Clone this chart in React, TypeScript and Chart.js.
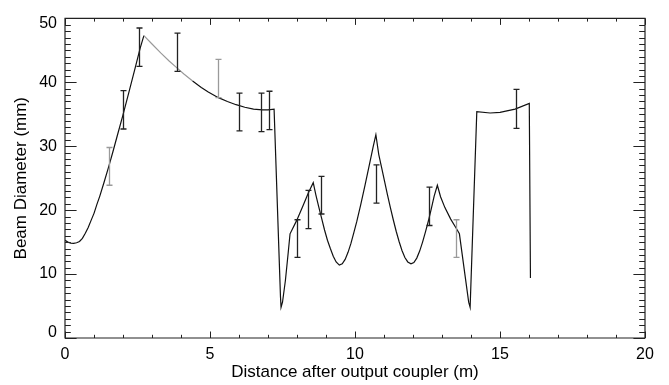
import { useEffect, useRef } from "react";
import { Chart, registerables } from "chart.js";

Chart.register(...registerables);

// ---- Data ----
const curveX = [
  0, 0.1, 0.2, 0.3, 0.4, 0.5, 0.6, 0.7, 0.8, 0.9, 1.0, 1.1, 1.2, 1.35, 1.5, 1.65, 1.8, 2.0, 2.2, 2.4,
  2.59, 2.72, 3.0, 3.3, 3.6, 3.85, 4.1, 4.4, 4.7, 4.94, 5.29, 5.6, 5.9, 6.2, 6.5, 6.8, 7.0, 7.21, 7.4,
  7.43, 7.45, 7.5, 7.6, 7.7, 7.76, 7.99, 8.2, 8.39, 8.56, 8.65, 8.75, 8.85, 8.95, 9.05, 9.15, 9.25, 9.35,
  9.46, 9.56, 9.66, 9.76, 9.86, 9.96, 10.06, 10.2, 10.35, 10.5, 10.62, 10.72, 10.82, 10.92, 11.02, 11.12,
  11.22, 11.32, 11.42, 11.52, 11.62, 11.72, 11.82, 11.93, 12.03, 12.13, 12.23, 12.33, 12.43, 12.53,
  12.63, 12.73, 12.84, 12.95, 13.1, 13.3, 13.5, 13.6, 13.8, 13.92, 13.97, 14.2, 14.66, 15.0, 15.52,
  16.01, 16.05,
];
const curveY = [
  15.3, 15.0, 14.85, 14.8, 14.9, 15.1, 15.6, 16.4, 17.3, 18.4, 19.5, 20.9, 22.2, 24.4, 26.7, 29.1, 31.6,
  34.9, 38.4, 41.9, 45.3, 47.3, 46.0, 44.6, 43.3, 42.3, 41.3, 40.2, 39.2, 38.5, 37.6, 37.0, 36.5, 36.1,
  35.8, 35.7, 35.7, 35.8, 10.5, 6.5, 4.8, 5.6, 9.0, 13.5, 16.3, 18.4, 20.6, 22.7, 24.3, 22.4, 20.5, 18.7,
  16.9, 15.3, 14.0, 12.8, 11.9, 11.4, 11.6, 12.3, 13.4, 14.8, 16.5, 18.2, 20.9, 24.0, 27.2, 29.8, 31.8,
  28.7, 26.6, 24.5, 22.4, 20.4, 18.5, 16.7, 15.1, 13.7, 12.6, 11.9, 11.6, 11.8, 12.5, 13.6, 15.0, 16.6,
  18.3, 20.2, 22.2, 23.9, 22.1, 20.4, 18.6, 17.1, 16.3, 9.6, 5.6, 4.8, 35.4, 35.2, 35.3, 35.8, 36.7, 9.4,
];

const errX = [1.5, 2.0, 2.56, 3.85, 5.29, 6.01, 6.75, 7.03, 7.99, 8.39, 8.82, 10.71, 12.56, 13.47, 15.54];
const errLow = [23.9, 32.7, 42.5, 41.7, 37.6, 32.4, 32.3, 32.6, 12.6, 17.1, 19.4, 21.1, 17.6, 12.6, 32.8];
const errHigh = [29.8, 38.7, 48.5, 47.7, 43.6, 38.3, 38.3, 38.6, 18.5, 23.1, 25.3, 27.1, 23.6, 18.5, 38.9];

const xTickValues = [0, 5, 10, 15, 20];
const yTickValues = [0, 10, 20, 30, 40, 50];

const xTitle = "Distance after output coupler (m)";
const yTitle = "Beam Diameter (mm)";

// ---- Styling ----
const FONT = "'Liberation Sans', Arial, Helvetica, sans-serif";
const INK = "#111";
const FAINT = "#9a9a9a";
const FAINT_BARS = new Set([0, 4, 13]);
const FAINT_LINE_FROM = 2.72;
const FAINT_LINE_TO = 4.4;

const errorBars = {
  id: "errorBars",
  afterDatasetsDraw(chart: any) {
    const { ctx, scales } = chart;
    const xs = scales.x;
    const ys = scales.y;
    ctx.save();
    ctx.lineWidth = 1.3;
    for (let i = 0; i < errX.length; i++) {
      const px = Math.round(xs.getPixelForValue(errX[i])) + 0.5;
      const pl = ys.getPixelForValue(errLow[i]);
      const ph = ys.getPixelForValue(errHigh[i]);
      ctx.strokeStyle = FAINT_BARS.has(i) ? FAINT : "#222";
      ctx.beginPath();
      ctx.moveTo(px, pl);
      ctx.lineTo(px, ph);
      ctx.moveTo(px - 3, pl);
      ctx.lineTo(px + 3, pl);
      ctx.moveTo(px - 3, ph);
      ctx.lineTo(px + 3, ph);
      ctx.stroke();
    }
    ctx.restore();
  },
};

const frame = {
  id: "frame",
  afterDatasetsDraw(chart: any) {
    const { ctx, chartArea, scales } = chart;
    const { left, right, top, bottom } = chartArea;
    const xs = scales.x;
    const ys = scales.y;
    ctx.save();
    ctx.strokeStyle = "#222";
    ctx.lineWidth = 1.2;
    ctx.beginPath();
    ctx.rect(left, top, right - left, bottom - top);
    ctx.stroke();
    ctx.lineWidth = 1;
    ctx.beginPath();
    for (let v = 0; v <= 20; v += 1) {
      const px = Math.round(xs.getPixelForValue(v)) + 0.5;
      const len = v % 5 === 0 ? 6.5 : 3.2;
      ctx.moveTo(px, bottom);
      ctx.lineTo(px, bottom - len);
      ctx.moveTo(px, top);
      ctx.lineTo(px, top + len);
    }
    for (let v = 0; v <= 50; v += 1) {
      const py = Math.round(ys.getPixelForValue(v)) + 0.5;
      const len = v % 10 === 0 ? 11.6 : 5.8;
      ctx.moveTo(left, py);
      ctx.lineTo(left + len, py);
      ctx.moveTo(right, py);
      ctx.lineTo(right - len, py);
    }
    ctx.stroke();
    ctx.restore();
  },
};

export default function App() {
  const ref = useRef<HTMLCanvasElement | null>(null);

  useEffect(() => {
    if (!ref.current) return;
    const points = curveX.map((x, i) => ({ x, y: curveY[i] }));
    const chart = new Chart(ref.current, {
      type: "line",
      data: {
        datasets: [
          {
            data: points,
            borderColor: INK,
            borderWidth: 1.2,
            pointRadius: 0,
            tension: 0,
            fill: false,
            segment: {
              borderColor: (c: any) => {
                const x0 = curveX[c.p0DataIndex];
                return x0 >= FAINT_LINE_FROM && x0 < FAINT_LINE_TO ? FAINT : INK;
              },
            },
          },
        ],
      },
      options: {
        animation: false,
        responsive: false,
        devicePixelRatio: 1,
        layout: { padding: { left: 0, right: 24, top: 13, bottom: 0 } },
        plugins: { legend: { display: false }, tooltip: { enabled: false } },
        scales: {
          x: {
            type: "linear",
            min: 0,
            max: 20,
            afterBuildTicks: (s: any) => {
              s.ticks = xTickValues.map((v) => ({ value: v }));
            },
            afterFit: (s: any) => {
              s.height = 47;
            },
            grid: { display: false, drawTicks: false },
            border: { display: false },
            ticks: {
              padding: 7,
              color: "#000",
              maxRotation: 0,
              autoSkip: false,
              font: { family: FONT, size: 16 },
              callback: (v: any) => String(v),
            },
            title: {
              display: true,
              text: xTitle,
              color: "#000",
              font: { family: FONT, size: 17 },
              padding: { top: 0, bottom: 2 },
            },
          },
          y: {
            type: "linear",
            min: 0,
            max: 50,
            afterBuildTicks: (s: any) => {
              s.ticks = yTickValues.map((v) => ({ value: v }));
            },
            afterFit: (s: any) => {
              s.width = 65;
            },
            grid: { display: false, drawTicks: false },
            border: { display: false },
            ticks: {
              padding: 8,
              color: "#000",
              autoSkip: false,
              font: (c: any) => {
                const v = c.tick ? c.tick.value : null;
                const edge = v === yTickValues[0] || v === yTickValues[yTickValues.length - 1];
                return { family: FONT, size: 16, lineHeight: edge ? 0.65 : 1.2 };
              },
              callback: (v: any) => {
                if (v === yTickValues[0]) return [String(v), ""];
                if (v === yTickValues[yTickValues.length - 1]) return ["", String(v)];
                return String(v);
              },
            },
            title: {
              display: true,
              text: yTitle,
              color: "#000",
              font: { family: FONT, size: 17 },
              padding: { top: 11, bottom: 0 },
            },
          },
        },
      },
      plugins: [errorBars, frame],
    } as any);
    return () => chart.destroy();
  }, []);

  return (
    <div style={{ position: "fixed", left: 0, top: 0, width: 669, height: 385, background: "#fff" }}>
      <canvas ref={ref} width={669} height={385} style={{ width: 669, height: 385, display: "block" }} />
    </div>
  );
}
